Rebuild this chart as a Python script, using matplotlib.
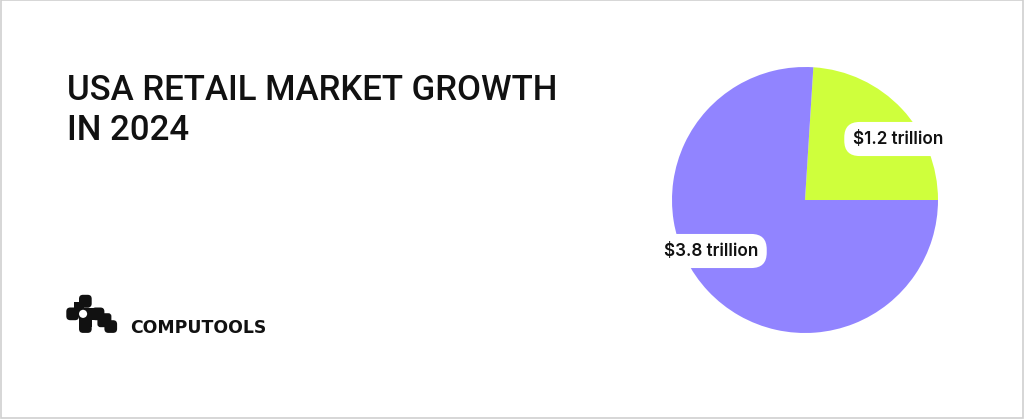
import matplotlib
matplotlib.use("Agg")
import matplotlib.pyplot as plt
from matplotlib.patches import Rectangle, FancyBboxPatch, Circle

# Data
categories = ["Online", "Offline"]
values = [1.2, 3.8]
labels = ["$1.2 trillion", "$3.8 trillion"]
colors = ["#CFFF3C", "#9184FF"]
title_lines = ["USA RETAIL MARKET GROWTH", "IN 2024"]
brand = "COMPUTOOLS"

W, H = 1024, 419
fig = plt.figure(figsize=(W / 100, H / 100), dpi=100)
fig.patch.set_facecolor("white")

# Background overlay axes in pixel coordinates (top-left origin)
bg = fig.add_axes([0, 0, 1, 1])
bg.set_xlim(0, W)
bg.set_ylim(H, 0)
bg.axis("off")

# Border frame
bg.add_patch(Rectangle((0.5, 0.5), W - 1.5, H - 1.5, fill=False,
                       edgecolor="#cfcfcf", linewidth=1.2))

# Title
for i, line in enumerate(title_lines):
    bg.text(67, 100 + 40 * i, line, family="Roboto", fontsize=25,
            fontweight="medium", color="#111111", va="baseline", ha="left")

# Logo (blocky mark)
cell = 12.7
ox, oy = 66.3, 294.8
ink = "#111111"
for c, r in [(1, 0), (0, 1), (1, 1), (2, 1), (1, 2), (3, 2)]:
    bg.add_patch(FancyBboxPatch((ox + c * cell, oy + r * cell), cell, cell,
                                boxstyle="round,pad=0,rounding_size=4",
                                facecolor=ink, edgecolor="none"))
# fills between touching cells
bg.add_patch(Rectangle((ox + 0.6 * cell, oy + 0.6 * cell), 0.8 * cell, 0.8 * cell,
                       facecolor=ink, edgecolor="none"))
bg.add_patch(Rectangle((ox + 1.5 * cell, oy + 1.0 * cell), 1.0 * cell, 1.0 * cell,
                       facecolor=ink, edgecolor="none"))
bg.add_patch(Rectangle((ox + 1.0 * cell, oy + 1.5 * cell), 1.0 * cell, 1.0 * cell,
                       facecolor=ink, edgecolor="none"))
bg.add_patch(FancyBboxPatch((ox + 2.45 * cell, oy + 1.45 * cell), 1.1 * cell, 1.1 * cell,
                            boxstyle="round,pad=0,rounding_size=3",
                            facecolor=ink, edgecolor="none"))
# white notch
bg.add_patch(Circle((ox + 1.32 * cell, oy + 1.5 * cell), 0.32 * cell,
                    facecolor="white", edgecolor="none"))

bg.text(130, 333, brand, family="DejaVu Sans", fontsize=12.4, fontweight="bold",
        color="#111111", va="baseline", ha="left")

# Pie
cx, cy, R = 805, 200, 133
ax = fig.add_axes([(cx - R) / W, (H - cy - R) / H, 2 * R / W, 2 * R / H])
ax.pie(values, colors=colors, startangle=0, counterclock=True,
       wedgeprops=dict(linewidth=0))
ax.set_xlim(-1, 1)
ax.set_ylim(-1, 1)
ax.set_aspect("auto")
ax.axis("off")

label_pos = [((898 - cx) / R, (cy - 139) / R), ((711 - cx) / R, (cy - 251) / R)]
for lab, (x, y) in zip(labels, label_pos):
    ax.text(x, y, lab, family="Inter", fontsize=12.3, fontweight=600,
            color="#111111", ha="center", va="center", clip_on=False,
            bbox=dict(boxstyle="round,pad=0.5,rounding_size=0.9",
                      facecolor="white", edgecolor="none"))

fig.savefig("out.png", dpi=100, facecolor="white")
